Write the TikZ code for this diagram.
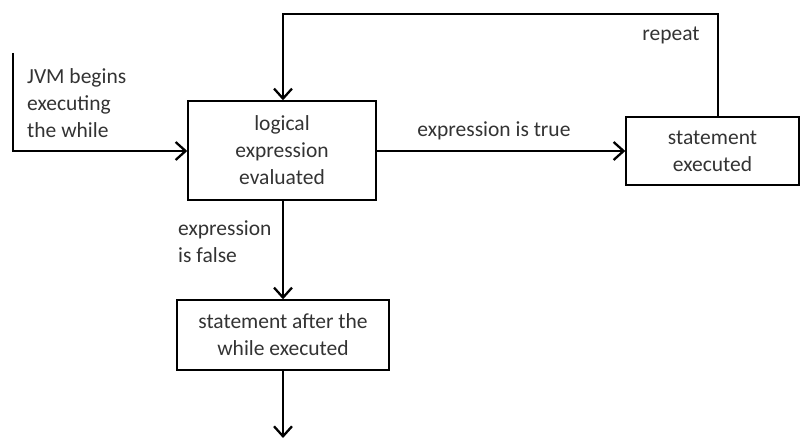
\documentclass[tikz,border=0pt]{standalone}
\usepackage{fontspec}
\setmainfont{Carlito}
\usetikzlibrary{arrows.meta}
\definecolor{txt}{HTML}{333333}
\begin{document}
\begin{tikzpicture}[x=1pt,y=-1pt,
  box/.style={draw=black,line width=1.4pt,rectangle,align=center,text=txt,font=\fontsize{21.5}{27}\selectfont,inner sep=0pt},
  lbl/.style={text=txt,font=\fontsize{21.5}{27}\selectfont,inner sep=0pt},
  conn/.style={line width=2.3pt,-{Straight Barb[length=10pt,width=18pt,line width=2.3pt]}},
  plain/.style={line width=2.3pt}]
\useasboundingbox (0,0) rectangle (800,441);
\node[box,minimum width=188pt,minimum height=99pt] (logic) at (282,150.5) {logical\\expression\\evaluated};
\node[box,minimum width=173pt,minimum height=68pt] (stmt) at (712.5,151) {statement\\executed};
\node[box,minimum width=212pt,minimum height=70pt] (after) at (283,335) {statement after the\\while executed};
\coordinate (start) at (13,53);
\coordinate (corner) at (13,151);
\coordinate (tl) at (283,14);
\coordinate (tr) at (718,14);
\coordinate (end) at (283,438);
\draw[conn] (start) -- (corner) -- (logic.west |- corner);
\draw[conn] (logic.east |- stmt.west) -- (stmt.west);
\draw[conn] (tr |- stmt.north) -- (tr) -- (tl) -- (logic.north -| tl);
\draw[conn] (logic.south -| tl) -- (after.north -| tl);
\draw[conn] (after.south -| end) -- (end);
\node[lbl,align=left,anchor=north west] (jvm) at (27,68) {JVM begins\\executing\\the while};
\node[lbl] (true) at (494,131) {expression is true};
\node[lbl] (rep) at (671,35) {repeat};
\node[lbl,align=left,anchor=north west] (false) at (178,221) {expression\\is false};
\end{tikzpicture}
\end{document}
